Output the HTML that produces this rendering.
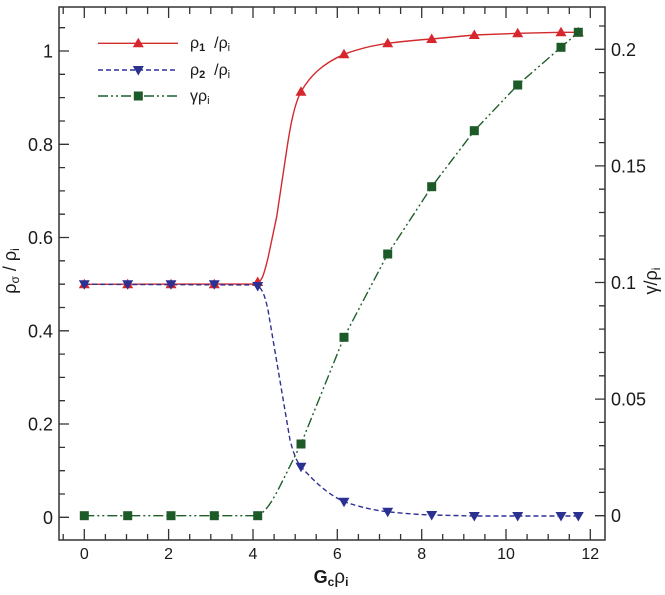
<!DOCTYPE html>
<html>
<head>
<meta charset="utf-8">
<style>
html,body{margin:0;padding:0;background:#fff;}
svg{display:block;}
text{font-family:"Liberation Sans",sans-serif;fill:#1a1a1a;}
</style>
</head>
<body>
<svg width="665" height="595" viewBox="0 0 665 595" xmlns="http://www.w3.org/2000/svg">
<rect width="665" height="595" fill="#fff"/>
<!-- frame -->
<rect x="59" y="7" width="546" height="533" fill="none" stroke="#333" stroke-width="1.5"/>
<g stroke="#333" stroke-width="1.3" fill="none">
<!-- left majors -->
<path d="M59,517.3h10M59,424h10M59,330.8h10M59,237.5h10M59,144.3h10M59,51h10"/>
<!-- left minors -->
<path d="M59,494h6M59,470.7h6M59,447.4h6M59,400.7h6M59,377.4h6M59,354.1h6M59,307.5h6M59,284.2h6M59,260.8h6M59,214.2h6M59,190.9h6M59,167.6h6M59,121h6M59,97.6h6M59,74.3h6M59,27.7h6"/>
<!-- right majors -->
<path d="M605,515.7h-10M605,399.1h-10M605,282.5h-10M605,165.9h-10M605,49.3h-10"/>
<!-- right minors -->
<path d="M605,492.4h-6M605,469.1h-6M605,445.7h-6M605,422.4h-6M605,375.8h-6M605,352.5h-6M605,329.1h-6M605,305.8h-6M605,259.2h-6M605,235.9h-6M605,212.5h-6M605,189.2h-6M605,142.6h-6M605,119.3h-6M605,95.9h-6M605,72.6h-6M605,26h-6"/>
<!-- bottom majors -->
<path d="M84.3,540v-11M168.6,540v-11M253,540v-11M337.3,540v-11M421.7,540v-11M506,540v-11M590.3,540v-11"/>
<!-- bottom minors -->
<path d="M63.2,540v-6M105.4,540v-6M126.5,540v-6M147.6,540v-6M189.7,540v-6M210.8,540v-6M231.9,540v-6M274.1,540v-6M295.2,540v-6M316.2,540v-6M358.4,540v-6M379.5,540v-6M400.6,540v-6M442.7,540v-6M463.8,540v-6M484.9,540v-6M527.1,540v-6M548.2,540v-6M569.3,540v-6"/>
<!-- top majors -->
<path d="M84.3,7v11M168.6,7v11M253,7v11M337.3,7v11M421.7,7v11M506,7v11M590.3,7v11"/>
<!-- top minors -->
<path d="M63.2,7v7M105.4,7v7M126.5,7v7M147.6,7v7M189.7,7v7M210.8,7v7M231.9,7v7M274.1,7v7M295.2,7v7M316.2,7v7M358.4,7v7M379.5,7v7M400.6,7v7M442.7,7v7M463.8,7v7M484.9,7v7M527.1,7v7M548.2,7v7M569.3,7v7"/>
</g>

<!-- left tick labels -->
<g font-size="18" text-anchor="end">
<text x="53" y="523.8">0</text>
<text x="53" y="430.5">0.2</text>
<text x="53" y="337.3">0.4</text>
<text x="53" y="244">0.6</text>
<text x="53" y="150.8">0.8</text>
<text x="53" y="57.5">1</text>
</g>
<!-- right tick labels -->
<g font-size="18" text-anchor="start">
<text x="611" y="522.2">0</text>
<text x="611" y="405.6">0.05</text>
<text x="611" y="289">0.1</text>
<text x="611" y="172.4">0.15</text>
<text x="611" y="55.8">0.2</text>
</g>
<!-- bottom tick labels -->
<g font-size="16" text-anchor="middle">
<text x="84.3" y="559">0</text>
<text x="168.6" y="559">2</text>
<text x="253" y="559">4</text>
<text x="337.3" y="559">6</text>
<text x="421.7" y="559">8</text>
<text x="506" y="559">10</text>
<text x="590.3" y="559">12</text>
</g>

<!-- axis titles -->
<text x="331" y="583" font-size="18" font-weight="bold" text-anchor="middle">G<tspan font-size="12" dy="3">c</tspan><tspan dy="-3" font-weight="normal" font-size="19">ρ</tspan><tspan font-size="12" dy="3">i</tspan></text>
<text transform="translate(16,271) rotate(-90)" font-size="18" text-anchor="middle">ρ<tspan font-size="12" dy="3">σ</tspan><tspan dy="-3"> / ρ</tspan><tspan font-size="12" dy="3">i</tspan></text>
<text transform="translate(657,281) rotate(-90)" font-size="18" text-anchor="middle">γ/ρ<tspan font-size="12" dy="3">i</tspan></text>

<!-- red curve -->
<path d="M84.3,284.3 L255,284 C262,283 264,274 268,258 L276.7,216.7 L286.7,150 C290,128 294,105 301,91.7 C310,76 322,64 344,54.3 C358,49 372,45.5 387.7,43.3 C402,41.5 416,40 431.7,39 L474.3,35 L517.7,33.3 L561,32.3 L578.3,32.3" fill="none" stroke="#d32a2e" stroke-width="1.4"/>
<!-- blue curve -->
<path d="M84.3,284.3 L256,285 C262,287 265,296 268,310 L290,440 C294,455 297,462 301,466.7 C315,482 326,493 344,501.7 C360,507 372,510 387.7,511.7 C404,513.5 418,514.5 431.7,515 L474.3,516 L578.3,516" fill="none" stroke="#2e3192" stroke-width="1.4" stroke-dasharray="5,3"/>
<!-- green curve -->
<path d="M84.3,515.7 L256,515.7 C264,514 270,505 278,490 L301,444 L344,337.3 L387.7,254 L431.7,186.7 L474.3,130.7 L517.7,85 L561,47.3 L578.3,32.3" fill="none" stroke="#1e5e2a" stroke-width="1.4" stroke-dasharray="10,3,2,3,2,3"/>

<!-- red markers -->
<g fill="#d7262e">
<path d="M84.3,278.8l5.5,9.5h-11z"/>
<path d="M127.7,278.8l5.5,9.5h-11z"/>
<path d="M171,278.8l5.5,9.5h-11z"/>
<path d="M214.3,278.8l5.5,9.5h-11z"/>
<path d="M257.7,276.5l5.5,9.5h-11z"/>
<path d="M301,86.2l5.5,9.5h-11z"/>
<path d="M344,48.8l5.5,9.5h-11z"/>
<path d="M387.7,37.8l5.5,9.5h-11z"/>
<path d="M431.7,33.5l5.5,9.5h-11z"/>
<path d="M474.3,29.5l5.5,9.5h-11z"/>
<path d="M517.7,27.8l5.5,9.5h-11z"/>
<path d="M561,26.8l5.5,9.5h-11z"/>
<path d="M578.3,26.8l5.5,9.5h-11z"/>
</g>
<!-- blue markers -->
<g fill="#2b3191">
<path d="M84.3,289.8l5.5,-9.5h-11z"/>
<path d="M127.7,289.8l5.5,-9.5h-11z"/>
<path d="M171,289.8l5.5,-9.5h-11z"/>
<path d="M214.3,289.8l5.5,-9.5h-11z"/>
<path d="M257.7,291.5l5.5,-9.5h-11z"/>
<path d="M301,472.2l5.5,-9.5h-11z"/>
<path d="M344,507.2l5.5,-9.5h-11z"/>
<path d="M387.7,517.2l5.5,-9.5h-11z"/>
<path d="M431.7,520.5l5.5,-9.5h-11z"/>
<path d="M474.3,521.5l5.5,-9.5h-11z"/>
<path d="M517.7,521.5l5.5,-9.5h-11z"/>
<path d="M561,521.5l5.5,-9.5h-11z"/>
<path d="M578.3,521.5l5.5,-9.5h-11z"/>
</g>
<!-- green markers -->
<g fill="#1c5a28">
<rect x="79.8" y="511.2" width="9" height="9"/>
<rect x="123.2" y="511.2" width="9" height="9"/>
<rect x="166.5" y="511.2" width="9" height="9"/>
<rect x="209.8" y="511.2" width="9" height="9"/>
<rect x="253.2" y="511.2" width="9" height="9"/>
<rect x="296.5" y="439.5" width="9" height="9"/>
<rect x="339.5" y="332.8" width="9" height="9"/>
<rect x="383.2" y="249.5" width="9" height="9"/>
<rect x="427.2" y="182.2" width="9" height="9"/>
<rect x="469.8" y="126.2" width="9" height="9"/>
<rect x="513.2" y="80.5" width="9" height="9"/>
<rect x="556.5" y="42.8" width="9" height="9"/>
<rect x="573.8" y="27.8" width="9" height="9"/>
</g>

<!-- legend -->
<path d="M98,43.3H178" stroke="#d32a2e" stroke-width="1.4"/>
<path d="M138.3,37.8l5.5,9.5h-11z" fill="#d7262e"/>
<path d="M98,70H178" stroke="#2e3192" stroke-width="1.4" stroke-dasharray="5,3"/>
<path d="M138.3,75.5l5.5,-9.5h-11z" fill="#2b3191"/>
<path d="M98,96H178" stroke="#1e5e2a" stroke-width="1.4" stroke-dasharray="10,3,2,3,2,3"/>
<rect x="133.8" y="91.5" width="9" height="9" fill="#1c5a28"/>

<g font-size="16">
<text x="190" y="48">ρ<tspan font-size="11" font-weight="bold" dy="3">1</tspan><tspan dy="-3" xml:space="preserve">  /ρ</tspan><tspan font-size="11" dy="3">i</tspan></text>
<text x="190" y="75">ρ<tspan font-size="11" font-weight="bold" dy="3">2</tspan><tspan dy="-3" xml:space="preserve">  /ρ</tspan><tspan font-size="11" dy="3">i</tspan></text>
<text x="190" y="101">γρ<tspan font-size="11" dy="3">i</tspan></text>
</g>
</svg>
</body>
</html>
